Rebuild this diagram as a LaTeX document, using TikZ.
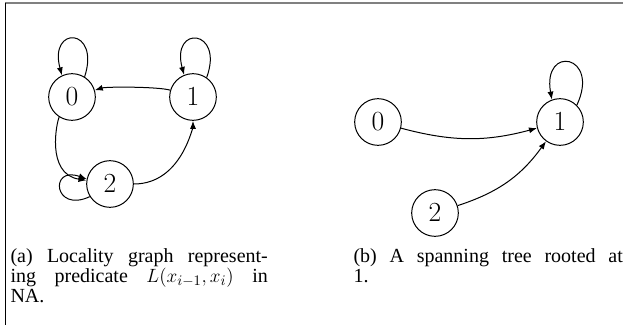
\documentclass[tikz,border=0pt]{standalone}
\usepackage{fontspec}
\setmainfont{Liberation Serif}
\usetikzlibrary{arrows.meta}
\newcommand{\capfont}{\fontsize{15}{15.2}\selectfont\lineskiplimit -6pt\relax}
\tikzset{every picture/.style={line width=0.75pt}}
\tikzset{
state/.style={draw, circle, minimum size=35pt, inner sep=0pt, font=\fontsize{20}{20}\selectfont},
trans/.style={-{Latex[length=6pt,width=4.5pt]}},
subcap/.style={anchor=north west, inner sep=0pt, align=justify, font=\capfont}
}

\begin{document}
\begin{tikzpicture}[x=0.75pt,y=0.75pt,yscale=-1,xscale=1]
\useasboundingbox (0,0) rectangle (623,325);

%Frame
\draw [color=gray, line width=1.5pt] (5,2.5) -- (623,2.5) ;
\draw [line width=1.1pt] (5.5,2.5) -- (5.5,325) ;

% (a) locality graph
\node [state] (a0) at (72,97) {$0$};
\node [state] (a1) at (193,97) {$1$};
\node [state] (a2) at (110,184) {$2$};

%self loops
\draw [trans] (a0.58) .. controls +(-72:52) and +(-105:52) .. (a0.115) ;
\draw [trans] (a1.55) .. controls +(-70:52) and +(-105:52) .. (a1.112) ;
\draw [trans] (a2.212) .. controls +(-205:40) and +(-160:40) .. (a2.168) ;
%transitions
\path [trans] (a1) edge [out=-125, in=-55] (a0);
\path [trans] (a0) edge [out=-258, in=-155] (a2);
\path [trans] (a2) edge [out=0, in=-270] (a1);

% (b) spanning tree
\node [state] (b0) at (378,122) {$0$};
\node [state] (b1) at (560,122) {$1$};
\node [state] (b2) at (435,213) {$2$};

\draw [trans] (b1.45) .. controls +(-65:56) and +(-100:56) .. (b1.110) ;
\path [trans] (b0) edge [bend left=15] (b1);
\path [trans] (b2) edge [bend left=18] (b1);

% Captions
\node [subcap, text width=193pt] (capa) at (10,248) {(a) Locality graph represent-\linebreak ing predicate $L(x_{i-1},x_i)$ in\linebreak NA.};
\node [subcap, text width=202pt] (capb) at (353,248) {(b) A spanning tree rooted at\linebreak 1.};
\end{tikzpicture}
\end{document}
